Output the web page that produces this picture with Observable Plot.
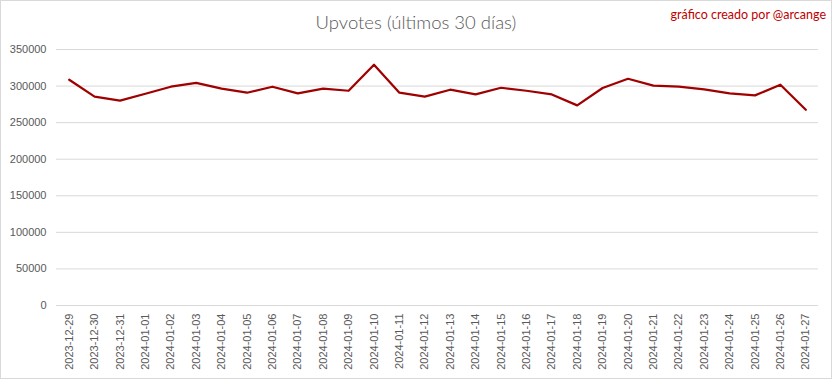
<!DOCTYPE html>
<html>
<head>
<meta charset="utf-8">
<script src="https://cdn.jsdelivr.net/npm/d3@7"></script>
<script src="https://cdn.jsdelivr.net/npm/@observablehq/plot@0.6"></script>
<style>
  html, body { margin: 0; padding: 0; background: #fff; }
  #frame { position: relative; width: 832px; height: 379px; box-sizing: border-box; border: 1px solid #d9d9d9; background: #fff; overflow: hidden; }
  #title { height: 40px; line-height: 42px; text-align: center; font-family: Lato, "Open Sans", sans-serif; font-weight: 300; font-size: 18.5px; color: #595959; }
  #credit { position: absolute; right: 5px; top: 6px; font-family: Lato, "Open Sans", sans-serif; font-size: 12.5px; color: #c00000; }
  #chart svg { display: block; }
</style>
</head>
<body>
<div id="frame">
  <div id="title">Upvotes (últimos 30 días)</div>
  <div id="credit">gráfico creado por @arcange</div>
  <div id="chart"></div>
</div>
<script>
const dates = [
  "2023-12-29","2023-12-30","2023-12-31","2024-01-01","2024-01-02","2024-01-03",
  "2024-01-04","2024-01-05","2024-01-06","2024-01-07","2024-01-08","2024-01-09",
  "2024-01-10","2024-01-11","2024-01-12","2024-01-13","2024-01-14","2024-01-15",
  "2024-01-16","2024-01-17","2024-01-18","2024-01-19","2024-01-20","2024-01-21",
  "2024-01-22","2024-01-23","2024-01-24","2024-01-25","2024-01-26","2024-01-27"
];
const upvotes = [
  308600, 285500, 280000, 289500, 299100, 304500,
  296400, 290900, 299100, 290000, 296400, 293600,
  329100, 290900, 285500, 295000, 288600, 297700,
  293600, 288600, 273600, 297300, 310000, 300500,
  299100, 295500, 290000, 287300, 301800, 267700
];
const yTicks = [0, 50000, 100000, 150000, 200000, 250000, 300000, 350000];

const data = dates.map((d, i) => ({date: d, value: upvotes[i]}));

const chart = Plot.plot({
  width: 830,
  height: 337,
  marginTop: 8,
  marginBottom: 73,
  marginLeft: 55,
  marginRight: 13,
  style: {fontFamily: "'Liberation Sans', Arial, sans-serif", fontSize: "11px", color: "#595959", background: "#fff"},
  x: {type: "point", domain: dates, padding: 0.5, round: false, label: null},
  y: {domain: [0, 350000], label: null},
  marks: [
    Plot.gridY(yTicks, {stroke: "#d9d9d9", strokeOpacity: 1, strokeWidth: 1}),
    Plot.axisY(yTicks, {tickSize: 0, tickPadding: 10, tickFormat: d => String(d), label: null, fill: "#595959", fontSize: 11}),
    Plot.axisX({tickSize: 0, tickRotate: -90, tickPadding: 8, label: null, fill: "#595959", fontSize: 11}),
    Plot.line(data, {x: "date", y: "value", stroke: "#a00000", strokeWidth: 2.25, strokeLinejoin: "round"})
  ]
});
document.getElementById("chart").appendChild(chart);
</script>
</body>
</html>
